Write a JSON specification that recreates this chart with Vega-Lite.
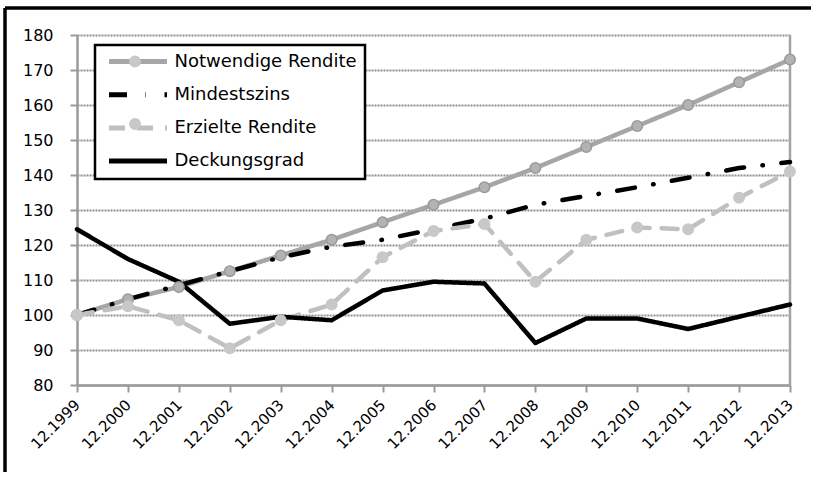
{
  "$schema": "https://vega.github.io/schema/vega-lite/v6.json",
  "usermeta": {"embedOptions": {"actions": false}},
  "width": 806,
  "height": 464,
  "autosize": {"type": "none"},
  "padding": {"left": 5, "top": 8, "right": 0, "bottom": 0},
  "background": "white",
  "config": {
    "view": {"stroke": "black", "strokeWidth": 3.5, "strokeDash": [806, 1270, 464, 0], "strokeDashOffset": 0},
    "font": "DejaVu Sans"
  },
  "data": {
    "values": [
      {"period": "12.1999", "Notwendige Rendite": 100, "Mindestszins": 100, "Erzielte Rendite": 100, "Deckungsgrad": 124.5},
      {"period": "12.2000", "Notwendige Rendite": 104.5, "Mindestszins": 104.5, "Erzielte Rendite": 102.5, "Deckungsgrad": 116},
      {"period": "12.2001", "Notwendige Rendite": 108, "Mindestszins": 108.5, "Erzielte Rendite": 98.5, "Deckungsgrad": 109.5},
      {"period": "12.2002", "Notwendige Rendite": 112.5, "Mindestszins": 112.5, "Erzielte Rendite": 90.5, "Deckungsgrad": 97.5},
      {"period": "12.2003", "Notwendige Rendite": 117, "Mindestszins": 116.5, "Erzielte Rendite": 98.5, "Deckungsgrad": 99.5},
      {"period": "12.2004", "Notwendige Rendite": 121.5, "Mindestszins": 119.5, "Erzielte Rendite": 103, "Deckungsgrad": 98.5},
      {"period": "12.2005", "Notwendige Rendite": 126.5, "Mindestszins": 121.5, "Erzielte Rendite": 116.5, "Deckungsgrad": 107},
      {"period": "12.2006", "Notwendige Rendite": 131.5, "Mindestszins": 124.5, "Erzielte Rendite": 124, "Deckungsgrad": 109.5},
      {"period": "12.2007", "Notwendige Rendite": 136.5, "Mindestszins": 127.5, "Erzielte Rendite": 126, "Deckungsgrad": 109},
      {"period": "12.2008", "Notwendige Rendite": 142, "Mindestszins": 131.5, "Erzielte Rendite": 109.5, "Deckungsgrad": 92},
      {"period": "12.2009", "Notwendige Rendite": 148, "Mindestszins": 134, "Erzielte Rendite": 121.5, "Deckungsgrad": 99},
      {"period": "12.2010", "Notwendige Rendite": 154, "Mindestszins": 136.5, "Erzielte Rendite": 125, "Deckungsgrad": 99},
      {"period": "12.2011", "Notwendige Rendite": 160, "Mindestszins": 139.2, "Erzielte Rendite": 124.5, "Deckungsgrad": 96},
      {"period": "12.2012", "Notwendige Rendite": 166.5, "Mindestszins": 142, "Erzielte Rendite": 133.5, "Deckungsgrad": 99.5},
      {"period": "12.2013", "Notwendige Rendite": 173, "Mindestszins": 143.7, "Erzielte Rendite": 141, "Deckungsgrad": 103}
    ]
  },
  "transform": [
    {"fold": ["Notwendige Rendite", "Mindestszins", "Erzielte Rendite", "Deckungsgrad"], "as": ["series", "value"]}
  ],
  "layer": [
    {
      "data": {"values": [{"edge": "12.2013"}]},
      "transform": [],
      "mark": {"type": "rule", "color": "#a3a3a3", "strokeWidth": 2.5},
      "encoding": {
        "x": {"field": "edge", "type": "ordinal"},
        "y": {"datum": 80, "type": "quantitative"},
        "y2": {"datum": 180}
      }
    },
    {
      "mark": {"type": "line", "strokeWidth": 4.5, "strokeCap": "round", "strokeJoin": "round"},
      "encoding": {
        "x": {
          "field": "period",
          "type": "ordinal",
          "scale": {"type": "point", "range": [72, 785], "padding": 0},
          "axis": {
            "title": null,
            "offset": -87,
            "labelAngle": -45,
            "labelAlign": "right",
            "labelBaseline": "middle",
            "labelFontSize": 15,
            "labelColor": "black",
            "labelPadding": 10,
            "tickSize": 7,
            "tickWidth": 2,
            "tickColor": "#9a9a9a",
            "domainColor": "#9a9a9a",
            "domainWidth": 2.5,
            "grid": false
          }
        },
        "y": {
          "field": "value",
          "type": "quantitative",
          "scale": {"domain": [80, 180], "range": [377, 27], "nice": false, "zero": false},
          "axis": {
            "title": null,
            "offset": -72,
            "values": [80, 90, 100, 110, 120, 130, 140, 150, 160, 170, 180],
            "labelFontSize": 16,
            "labelColor": "black",
            "labelPadding": 17,
            "tickSize": 7,
            "tickWidth": 2,
            "tickColor": "#9a9a9a",
            "domainColor": "#9a9a9a",
            "domainWidth": 2.5,
            "grid": true,
            "gridColor": "#8f8f8f",
            "gridWidth": 2,
            "gridDash": [2, 1]
          }
        },
        "stroke": {
          "field": "series",
          "type": "nominal",
          "scale": {
            "domain": ["Notwendige Rendite", "Mindestszins", "Erzielte Rendite", "Deckungsgrad"],
            "range": ["#a6a6a6", "#000000", "#c0c0c0", "#000000"]
          },
          "legend": {
            "title": null,
            "orient": "none",
            "legendX": 90,
            "legendY": 37,
            "padding": 7.5,
            "strokeColor": "black",
            "fillColor": "white",
            "symbolType": "M-5.8,0H5.8",
            "symbolSize": 100,
            "symbolStrokeWidth": 5,
            "symbolOffset": 26.5,
            "labelOffset": 27.5,
            "labelFontSize": 18,
            "labelColor": "black",
            "rowPadding": 13.2,
            "labelLimit": 400,
            "encode": {"legend": {"update": {"strokeWidth": {"value": 2.5}}}}
          }
        },
        "strokeDash": {
          "field": "series",
          "type": "nominal",
          "scale": {
            "domain": ["Notwendige Rendite", "Mindestszins", "Erzielte Rendite", "Deckungsgrad"],
            "range": [[1, 0], [18, 18.5, 0.5, 18.5], [16, 12], [1, 0]]
          }
        }
      }
    },
    {
      "mark": {"type": "point", "filled": true, "size": 110, "opacity": 1, "strokeWidth": 1.5},
      "encoding": {
        "x": {"field": "period", "type": "ordinal"},
        "y": {"field": "value", "type": "quantitative"},
        "fill": {"condition": {"test": "datum.series === 'Notwendige Rendite'", "value": "#b3b3b3"}, "value": "#c8c8c8"},
        "stroke": {"condition": {"test": "datum.series === 'Notwendige Rendite'", "value": "#999999"}, "value": "#c8c8c8"},
        "shape": {
          "field": "series",
          "type": "nominal",
          "sort": ["Notwendige Rendite", "Mindestszins", "Erzielte Rendite", "Deckungsgrad"],
          "scale": {"range": ["circle", "M0,0", "circle", "M0,0"]},
          "legend": {
            "title": null,
            "orient": "none",
            "legendX": 90,
            "legendY": 37,
            "padding": 7.5,
            "symbolSize": 110,
            "symbolStrokeWidth": 1.5,
            "symbolOffset": 23.5,
            "labelOffset": 27.5,
            "labelFontSize": 18,
            "labelExpr": "' '",
            "rowPadding": 13.2,
            "labelLimit": 400,
            "encode": {
              "symbols": {
                "update": {
                  "fill": {"signal": "datum.value === 'Notwendige Rendite' ? '#b3b3b3' : '#c8c8c8'"},
                  "stroke": {"signal": "datum.value === 'Notwendige Rendite' ? '#999999' : '#c8c8c8'"}
                }
              }
            }
          }
        }
      }
    }
  ]
}
